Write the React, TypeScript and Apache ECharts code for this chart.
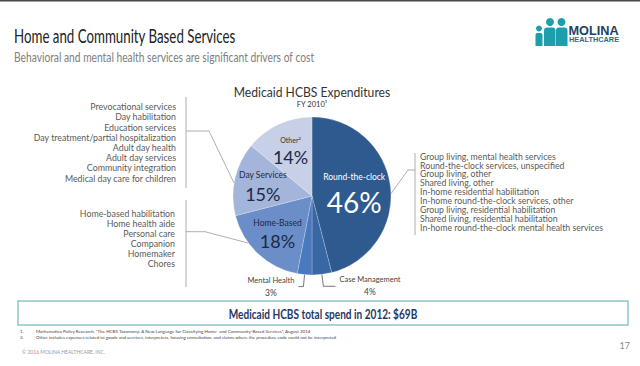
import React, { useEffect, useRef } from "react";
import * as echarts from "echarts";

const categories = ["Round-the-clock", "Case Management", "Mental Health", "Home-Based", "Day Services", "Other"];
const shares = [46, 4, 3, 18, 15, 14];
const sliceColors = ["#2f5a8f", "#3867a3", "#4a7abd", "#6b8ec8", "#a3b5da", "#c7d0e6"];

const dayServiceItems = [
  "Prevocational services",
  "Day habilitation",
  "Education services",
  "Day treatment/partial hospitalization",
  "Adult day health",
  "Adult day services",
  "Community integration",
  "Medical day care for children",
];
const homeBasedItems = [
  "Home-based habilitation",
  "Home health aide",
  "Personal care",
  "Companion",
  "Homemaker",
  "Chores",
];
const roundTheClockItems = [
  "Group living, mental health services",
  "Round-the-clock services, unspecified",
  "Group living, other",
  "Shared living, other",
  "In-home residential habilitation",
  "In-home round-the-clock services, other",
  "Group living, residential habilitation",
  "Shared living, residential habilitation",
  "In-home round-the-clock mental health services",
];
const footnotes = [
  "Mathematica Policy Research. \u201CThe HCBS Taxonomy: A New Language for Classifying Home- and Community-Based Services\u201D, August 2014",
  "Other includes expenses related to goods and services, interpreters, housing consultation, and claims where the procedure code could not be interpreted",
];

const FONT = "Lato, 'Open Sans', sans-serif";

function txt(x: number, y: number, text: string, o: any = {}) {
  return {
    type: "text",
    x,
    y,
    scaleX: o.sx ?? 1,
    silent: true,
    style: {
      text,
      fill: o.color ?? "#555",
      fontSize: o.size ?? 9,
      fontFamily: o.family ?? FONT,
      fontWeight: o.weight ?? "normal",
      align: o.align ?? "left",
      verticalAlign: "middle",
    },
  };
}
function ln(x1: number, y1: number, x2: number, y2: number, color = "#9a9a9a", w = 0.8) {
  return { type: "line", silent: true, shape: { x1, y1, x2, y2 }, style: { stroke: color, lineWidth: w } };
}

export default function App() {
  const ref = useRef<HTMLDivElement>(null);
  useEffect(() => {
    const chart = echarts.init(ref.current!, null, { renderer: "svg" });
    const cx = 312, cy = 196, r = 79;

    const mainData = categories.map((name, i) => {
      const item: any = { name, value: shares[i], itemStyle: { color: sliceColors[i] } };
      if (i === 0) {
        item.label = {
          show: true,
          position: "inside",
          formatter: (p: any) => `{a|${p.name}}\n{b|${p.value}%}`,
          rich: {
            a: { fontSize: 8.5, color: "#fff", fontFamily: FONT, lineHeight: 22, align: "center" },
            b: { fontSize: 28, color: "#fff", fontFamily: FONT, lineHeight: 28, align: "center" },
          },
        };
      } else if (i === 1 || i === 2) {
        item.label = {
          show: true,
          position: "outside",
          distanceToLabelLine: 4,
          formatter: (p: any) => `{n|${p.name}}\n{v|${p.value}%}`,
          rich: {
            n: { fontSize: 7.5, color: "#444", fontFamily: FONT, lineHeight: 12, align: "center" },
            v: { fontSize: 8.5, color: "#444", fontFamily: FONT, lineHeight: 13, align: "center" },
          },
        };
        item.labelLine = { show: true, length: 12, length2: i === 1 ? 12 : 5, lineStyle: { color: "#555", width: 0.8 } };
      } else {
        item.label = { show: false };
        item.labelLine = { show: false };
      }
      return item;
    });

    const overlayData = categories.map((name, i) => {
      const item: any = { name, value: shares[i], itemStyle: { color: "rgba(0,0,0,0)" } };
      if (i >= 3) {
        const shown = i === 5 ? "Other\u00B2" : name;
        item.label = {
          show: true,
          position: "inside",
          formatter: (p: any) => `{n${i === 5 ? "s" : ""}|${shown}}\n{v|${p.value}%}`,
          rich: {
            n: { fontSize: 8.5, color: "#1b2945", fontFamily: FONT, lineHeight: 17, align: "center" },
            ns: { fontSize: 7, color: "#333", fontFamily: FONT, lineHeight: 14, align: "center" },
            v: { fontSize: 18, color: "#1b2945", fontFamily: FONT, lineHeight: 20, align: "center" },
          },
        };
      } else {
        item.label = { show: false };
      }
      return item;
    });

    const graphics: any[] = [];
    // top bar
    graphics.push({ type: "rect", silent: true, shape: { x: 0, y: 0, width: 640, height: 1.5 }, style: { fill: "#4a4a4a" } });
    // titles
    graphics.push(txt(14, 35, "Home and Community Based Services", { size: 20, color: "#222", sx: 0.665 }));
    graphics.push(txt(14, 57, "Behavioral and mental health services are significant drivers of cost", { size: 12.5, color: "#808080", sx: 0.82 }));
    // logo
    const teal = "#1d9eab";
    graphics.push({ type: "circle", silent: true, shape: { cx: 539, cy: 28.5, r: 3 }, style: { fill: teal } });
    graphics.push({ type: "rect", silent: true, shape: { x: 535.5, y: 33, width: 7, height: 13, r: [2, 2, 0, 0] }, style: { fill: teal } });
    graphics.push({ type: "circle", silent: true, shape: { cx: 550, cy: 22, r: 4 }, style: { fill: teal } });
    graphics.push({ type: "rect", silent: true, shape: { x: 544, y: 27.5, width: 11.5, height: 18.5, r: [3, 3, 0, 0] }, style: { fill: teal } });
    graphics.push({ type: "circle", silent: true, shape: { cx: 561.5, cy: 22, r: 4 }, style: { fill: teal } });
    graphics.push({ type: "rect", silent: true, shape: { x: 556, y: 27.5, width: 11.5, height: 18.5, r: [3, 3, 0, 0] }, style: { fill: teal } });
    graphics.push(txt(568.5, 30, "MOLINA", { size: 13, weight: "bold", color: "#23405f", sx: 0.98, family: "'Liberation Sans', Arial, sans-serif" }));
    graphics.push(txt(569, 39.5, "HEALTHCARE", { size: 8, weight: "bold", color: "#2a6e80", sx: 0.92, family: "'Liberation Sans', Arial, sans-serif" }));
    // chart title
    graphics.push(txt(312, 92, "Medicaid HCBS Expenditures", { size: 13.5, color: "#333", align: "center", sx: 0.9 }));
    graphics.push(txt(312, 104, "FY 2010\u00B9", { size: 7.5, color: "#333", align: "center" }));
    // left list 1
    dayServiceItems.forEach((t, i) => graphics.push(txt(176, 106.7 + i * 10.2, t, { size: 9, color: "#5a5a5a", align: "right", sx: 0.98 })));
    graphics.push(ln(186, 97, 186, 188));
    graphics.push(ln(186, 131, 209, 131));
    graphics.push(ln(209, 131, 234, 183));
    // left list 2
    homeBasedItems.forEach((t, i) => graphics.push(txt(175, 213.3 + i * 10, t, { size: 9, color: "#5a5a5a", align: "right", sx: 0.98 })));
    graphics.push(ln(186, 200, 186, 287));
    graphics.push(ln(186, 231.7, 205, 231.7));
    graphics.push(ln(205, 231.7, 248, 243));
    // right list
    roundTheClockItems.forEach((t, i) => graphics.push(txt(420, 156 + i * 8.95, t, { size: 9, color: "#5a5a5a", sx: 0.97 })));
    graphics.push(ln(415, 153, 415, 235));
    graphics.push(ln(415, 170, 408, 170));
    graphics.push(ln(408, 170, 390, 195));
    // banner
    graphics.push({ type: "rect", silent: true, shape: { x: 18, y: 301, width: 610, height: 24 }, style: { fill: "#fff", stroke: "#8cc5cc", lineWidth: 1.5 } });
    graphics.push(txt(323, 313.5, "Medicaid HCBS total spend in 2012: $69B", { size: 14, weight: "bold", color: "#1f3864", align: "center", sx: 0.72 }));
    // footnotes
    footnotes.forEach((t, i) => {
      graphics.push(txt(20, 331 + i * 6.5, `${i + 1}.`, { size: 4.5, color: "#444" }));
      graphics.push(txt(36, 331 + i * 6.5, t, { size: 4.5, color: "#444" }));
    });
    graphics.push(txt(22, 352, "\u00A9 2016 MOLINA HEALTHCARE, INC.", { size: 5, color: "#999" }));
    graphics.push(txt(630, 345, "17", { size: 9, color: "#888", align: "right" }));

    chart.setOption({
      animation: false,
      backgroundColor: "#fff",
      series: [
        {
          type: "pie",
          center: [cx, cy],
          radius: [0, r],
          startAngle: 90,
          clockwise: true,
          avoidLabelOverlap: false,
          silent: true,
          itemStyle: { borderColor: "rgba(255,255,255,0.45)", borderWidth: 0.5 },
          data: mainData,
          z: 2,
        },
        {
          type: "pie",
          center: [cx, cy],
          radius: [0, r * 1.2],
          startAngle: 90,
          clockwise: true,
          avoidLabelOverlap: false,
          silent: true,
          labelLine: { show: false },
          data: overlayData,
          z: 3,
        },
      ],
      graphic: graphics,
    });
    return () => chart.dispose();
  }, []);
  return <div ref={ref} style={{ position: "absolute", left: 0, top: 0, width: 640, height: 366 }} />;
}
